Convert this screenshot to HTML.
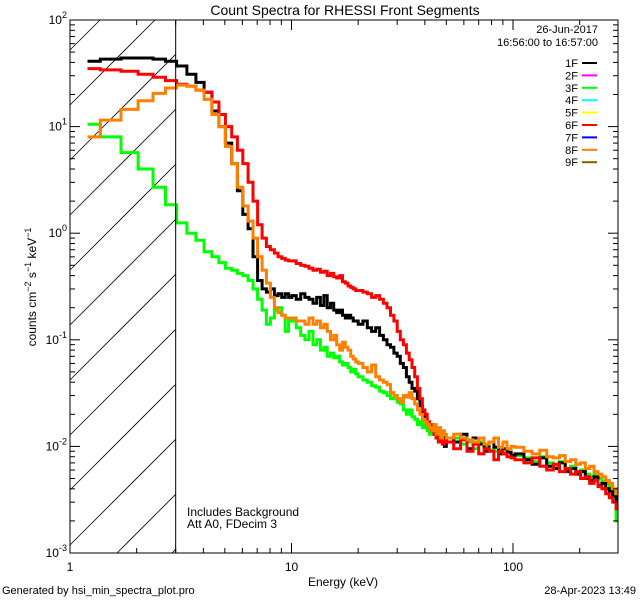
<!DOCTYPE html>
<html><head><meta charset="utf-8"><style>
html,body{margin:0;padding:0;background:#fff;width:640px;height:600px;overflow:hidden;}
svg{display:block;font-family:"Liberation Sans",sans-serif;}
</style></head><body>
<svg id="chart" width="640" height="600" viewBox="0 0 640 600" xmlns="http://www.w3.org/2000/svg">
<rect width="640" height="600" fill="#fff"/>
<text x="345" y="15" font-size="14" text-anchor="middle">Count Spectra for RHESSI Front Segments</text>
<defs><clipPath id="pclip"><rect x="70" y="20" width="548" height="533"/></clipPath></defs>
<g id="hatch"></g>
<g id="series" clip-path="url(#pclip)"></g>
<g id="axes"></g>
<text transform="translate(36,287) rotate(-90)" font-size="12" text-anchor="middle">counts cm<tspan dy="-5" font-size="9">−2</tspan><tspan dy="5"> s</tspan><tspan dy="-5" font-size="9">−1</tspan><tspan dy="5"> keV</tspan><tspan dy="-5" font-size="9">−1</tspan></text>
<text x="343" y="586" font-size="12" text-anchor="middle">Energy (keV)</text>
<text x="187" y="516" font-size="12">Includes Background</text>
<text x="187" y="528" font-size="12">Att A0, FDecim 3</text>
<text x="2" y="594" font-size="11">Generated by hsi_min_spectra_plot.pro</text>
<text x="636" y="594" font-size="11" text-anchor="end">28-Apr-2023 13:49</text>
<text x="598" y="33" font-size="11" text-anchor="end">26-Jun-2017</text>
<text x="598" y="46" font-size="11" text-anchor="end">16:56:00 to 16:57:00</text>
<g id="legend"></g>
</svg>
<script>
const segLabels=["1F","2F","3F","4F","5F","6F","7F","8F","9F"];
const segColors=["#000","#ff00ff","#00ff00","#00ffff","#ffff00","#ff0000","#0000ff","#ff8000","#806000"];
const xTicks=[1,10,100];
const yTicks=[-3,-2,-1,0,1,2];
// energy bin edges (keV)
const binEdges=[1.2,1.37,1.7,2.03,2.37,2.7,3.03,3.37,3.7,4.03,4.37,4.7,5.03,5.37,5.7,6.03,6.37,6.7,7.03,7.37,7.7,8.03,8.37,8.7,9.03,9.37,9.7,10.03,
10.5,11,11.5,12,12.5,13,13.5,14,14.5,15,15.5,16,16.5,17,17.5,18,18.5,19,19.5,20,
21,22,23,24,25,26,27,28,29,30,31,32,33,34,35,36,37,38,39,40,41,42,43,44,45,46,47,48,49,50,
54,58,62,66,70,74,78,82,86,90,94,98,102,
112,122,132,142,152,162,172,182,192,202,212,222,232,242,252,262,272,282,292,302];
const black1F=[41,43,44,44,43,41,37,31,26,21,14,10,7,4.5,2.5,1.5,1.1,0.6,0.36,0.3,0.28,0.3,0.26,0.27,0.25,0.27,0.25,
0.26,0.24,0.27,0.25,0.24,0.22,0.25,0.21,0.26,0.2,0.22,0.19,0.18,0.19,0.17,0.16,0.17,0.16,0.15,0.15,
0.14,0.15,0.13,0.12,0.13,0.11,0.1,0.09,0.085,0.075,0.07,0.06,0.055,0.045,0.04,0.035,0.033,0.028,0.024,0.02,0.018,0.016,0.015,0.014,0.013,0.012,0.014,0.011,0.012,0.010,
0.012,0.011,0.013,0.0095,0.012,0.0105,0.009,0.011,0.0098,0.0085,0.0095,0.0088,0.0082,
0.0085,0.0075,0.0068,0.0078,0.0065,0.0062,0.007,0.0058,0.0062,0.0055,0.0058,0.005,0.0048,0.0052,0.0043,0.0045,0.004,0.0038,0.0034,0.003];
const red6F=[35,34,33,31,29,27,25,24,22,21,17,13,10,8,6,4.5,3,2,1.2,0.9,0.75,0.7,0.65,0.6,0.58,0.56,0.55,
0.55,0.52,0.5,0.49,0.47,0.45,0.46,0.43,0.44,0.4,0.42,0.39,0.38,0.4,0.35,0.34,0.32,0.31,0.3,0.29,
0.29,0.28,0.27,0.25,0.26,0.24,0.22,0.2,0.17,0.15,0.12,0.1,0.09,0.075,0.065,0.055,0.045,0.035,0.028,0.022,0.02,0.017,0.016,0.014,0.013,0.012,0.011,0.012,0.0105,0.0115,
0.011,0.0095,0.0115,0.009,0.0105,0.0085,0.0095,0.009,0.0075,0.009,0.0085,0.008,0.0078,
0.0075,0.007,0.0078,0.0065,0.006,0.0068,0.0058,0.0062,0.0055,0.0058,0.005,0.0052,0.0045,0.0048,0.0042,0.004,0.0036,0.0033,0.003,0.0026];
const orange8F=[8,11.5,14.5,17.5,20.5,23,24.5,24,22,18,13,10,6.5,4.5,2.7,1.8,1.3,0.9,0.6,0.45,0.34,0.25,0.2,0.18,0.17,0.16,0.16,
0.16,0.15,0.15,0.14,0.16,0.14,0.15,0.13,0.14,0.12,0.1,0.11,0.09,0.08,0.095,0.085,0.08,0.07,0.066,0.062,
0.06,0.055,0.05,0.058,0.045,0.042,0.04,0.038,0.032,0.03,0.028,0.026,0.03,0.029,0.032,0.028,0.025,0.022,0.02,0.018,0.017,0.016,0.015,0.014,0.016,0.013,0.015,0.012,0.014,0.013,
0.012,0.013,0.012,0.0115,0.011,0.012,0.0105,0.011,0.012,0.0098,0.011,0.0095,0.01,
0.0098,0.009,0.0085,0.0092,0.008,0.0078,0.0082,0.0072,0.0075,0.0068,0.007,0.0062,0.0065,0.0058,0.0055,0.0052,0.0048,0.0045,0.004,0.0036];
const green3F=[10.5,8,5.7,4,2.7,1.85,1.25,1.0,0.86,0.67,0.6,0.53,0.47,0.45,0.42,0.4,0.36,0.3,0.24,0.19,0.14,0.16,0.19,0.2,0.17,0.12,0.15,
0.15,0.13,0.11,0.1,0.12,0.09,0.1,0.08,0.085,0.07,0.075,0.068,0.07,0.062,0.058,0.06,0.055,0.05,0.053,0.048,
0.045,0.042,0.04,0.037,0.036,0.033,0.032,0.03,0.028,0.03,0.026,0.025,0.022,0.02,0.022,0.019,0.018,0.016,0.017,0.015,0.016,0.014,0.013,0.015,0.013,0.012,0.014,0.011,0.013,0.012,
0.011,0.012,0.0105,0.011,0.0095,0.011,0.01,0.0092,0.009,0.0095,0.0085,0.0088,0.008,
0.0082,0.0078,0.0072,0.008,0.007,0.0065,0.0072,0.006,0.0065,0.0058,0.006,0.0055,0.0052,0.0056,0.005,0.0047,0.0045,0.0042,0.0038,0.002];

const NS="http://www.w3.org/2000/svg";
const X0=70,X1=618,Y0=20,Y1=553,XDEC=221.5;
const yMinL=-3,yMaxL=2;
function xs(e){return X0+Math.log10(e)*XDEC;}
function ys(v){return Y1-(Math.log10(v)-yMinL)/(yMaxL-yMinL)*(Y1-Y0);}
function mk(tag,attrs,parent){const el=document.createElementNS(NS,tag);for(const k in attrs)el.setAttribute(k,attrs[k]);parent.appendChild(el);return el;}

// hatch lines clipped analytically: y = b - (x - X0)
const hg=document.getElementById('hatch');
const HX1=xs(3);
for(let b=Y0+30;b<Y1+(HX1-X0);b+=55){
  let xa=X0,ya=b;
  if(ya>Y1){xa=X0+(ya-Y1);ya=Y1;}
  let xb=HX1,yb=b-(HX1-X0);
  if(yb<Y0){xb=X0+(b-Y0);yb=Y0;}
  if(xa>=xb)continue;
  const ln=mk('line',{x1:xa,y1:ya,x2:xb,y2:yb,stroke:'#000','stroke-width':0.8},hg);
  
  
}
const svg=document.getElementById('chart');
const thr=mk('line',{x1:HX1,y1:Y0,x2:HX1,y2:Y1,stroke:'#000','stroke-width':1},svg);



const sg=document.getElementById('series');
function drawSeries(vals,color,name){
  let d='';
  const n=Math.min(vals.length,binEdges.length-1);
  for(let i=0;i<n;i++){
    const y=ys(vals[i]).toFixed(1);
    const xa=Math.min(xs(binEdges[i]),X1).toFixed(1), xb=Math.min(xs(binEdges[i+1]),X1).toFixed(1);
    d+=(i===0?'M':'L')+xa+','+y+'L'+xb+','+y;
  }
  const p=mk('path',{d:d,fill:'none',stroke:color,'stroke-width':3,'stroke-linejoin':'miter'},sg);
  
  
}
drawSeries(green3F,'#00ff00','series-3f');
drawSeries(black1F,'#000000','series-1f');
drawSeries(red6F,'#ff0000','series-6f');
drawSeries(orange8F,'#ff8000','series-8f');

const ag=document.getElementById('axes');
const fr=mk('rect',{x:X0,y:Y0,width:X1-X0,height:Y1-Y0,fill:'none',stroke:'#000','stroke-width':1},ag);


const xmaxE=Math.pow(10,(X1-X0)/XDEC);
for(let dec=1;dec<=100;dec*=10){
  for(let m=1;m<10;m++){
    const e=dec*m; if(e>xmaxE)break;
    const x=xs(e),L=m===1?10:5;
    mk('line',{x1:x,y1:Y1,x2:x,y2:Y1-L,stroke:'#000'},ag);
    mk('line',{x1:x,y1:Y0,x2:x,y2:Y0+L,stroke:'#000'},ag);
  }
}
xTicks.forEach(t=>{
  const tx=mk('text',{x:xs(t),y:Y1+18,'font-size':12,'text-anchor':'middle'},ag);
  tx.textContent=String(t);
  
  
});
for(let p=yMinL;p<yMaxL;p++){
  for(let m=1;m<10;m++){
    const y=ys(m*Math.pow(10,p)),L=m===1?10:5;
    mk('line',{x1:X0,y1:y,x2:X0+L,y2:y,stroke:'#000'},ag);
    mk('line',{x1:X1,y1:y,x2:X1-L,y2:y,stroke:'#000'},ag);
  }
}
yTicks.forEach(p=>{
  const y=ys(Math.pow(10,p));
  const tx=mk('text',{x:X0-3,y:y+4,'font-size':12,'text-anchor':'end'},ag);
  tx.innerHTML='10<tspan dy="-6" font-size="9">'+p+'</tspan>';
  
  
});

const lg=document.getElementById('legend');
segLabels.forEach((lab,i)=>{
  const y=63+i*12.4;
  const t=mk('text',{x:578,y:y+4,'font-size':11,'text-anchor':'end'},lg);
  t.textContent=lab;
  
  
  const l=mk('line',{x1:582,y1:y,x2:597,y2:y,stroke:segColors[i],'stroke-width':2},lg);
  
  
});
</script>
</body></html>
